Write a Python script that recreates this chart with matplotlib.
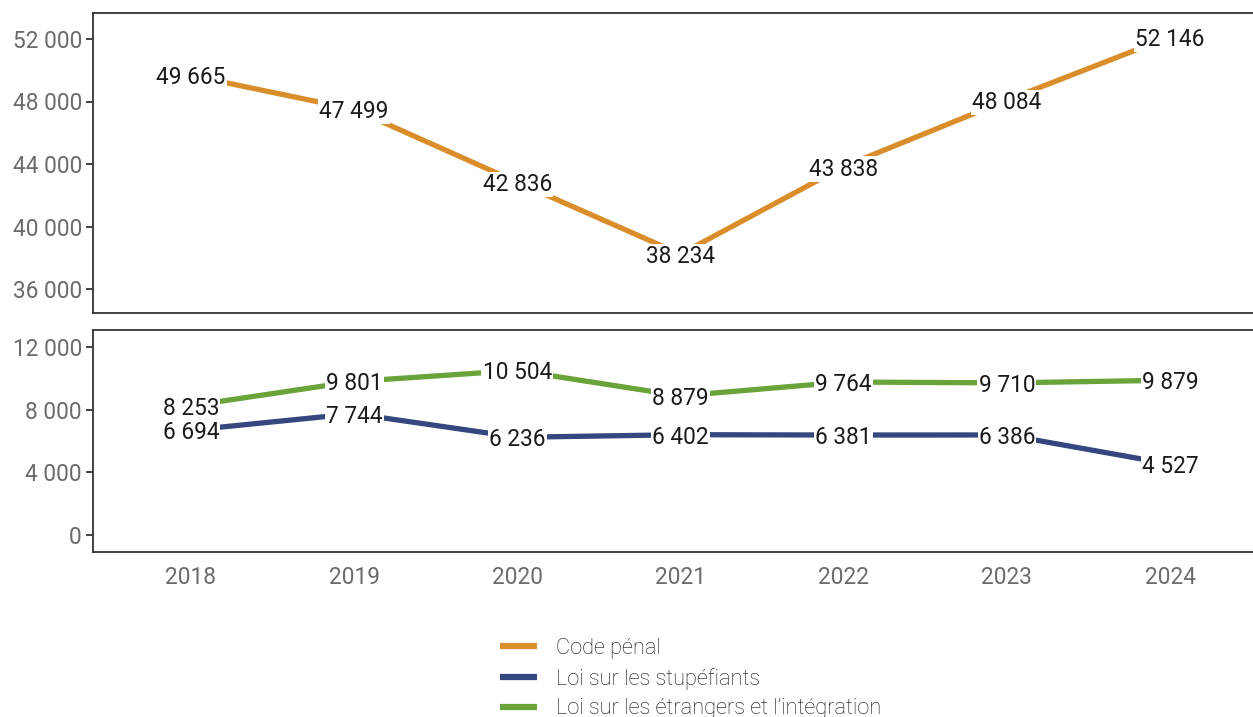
import matplotlib
matplotlib.use('Agg')
import matplotlib.pyplot as plt

years = [2018, 2019, 2020, 2021, 2022, 2023, 2024]
code_penal = [49665, 47499, 42836, 38234, 43838, 48084, 52146]
stupefiants = [6694, 7744, 6236, 6402, 6381, 6386, 4527]
etrangers = [8253, 9801, 10504, 8879, 9764, 9710, 9879]

series_names = ["Code pénal", "Loi sur les stupéfiants", "Loi sur les étrangers et l’intégration"]
colors = ["#D98E2B", "#34487F", "#6AA33A"]

top_ticks = [36000, 40000, 44000, 48000, 52000]
bottom_ticks = [0, 4000, 8000, 12000]

plt.rcParams['font.family'] = ['Roboto', 'DejaVu Sans']

W, H = 1253, 717
fig = plt.figure(figsize=(W / 100, H / 100), dpi=100)

def px_axes(x0, y0, x1, y1):
    return fig.add_axes([x0 / W, 1 - y1 / H, (x1 - x0) / W, (y1 - y0) / H])

ax_top = px_axes(93, 13, 1268, 313)
ax_bot = px_axes(93, 330, 1268, 552)

FS = 16.3
LFS = 15.7

def fmt(v):
    return f"{v:,}".replace(",", " ")

def draw(ax, vals, color, label):
    ln, = ax.plot(years, vals, color=color, lw=3.8, solid_capstyle='butt', zorder=2, label=label)
    for x, y in zip(years, vals):
        ax.text(x, y, fmt(y), ha='center', va='center_baseline', fontsize=FS, color='#1a1a1a',
                zorder=3, bbox=dict(boxstyle='square,pad=0.05', fc='white', ec='none'))
    return ln

h1 = draw(ax_top, code_penal, colors[0], series_names[0])
h2 = draw(ax_bot, stupefiants, colors[1], series_names[1])
h3 = draw(ax_bot, etrangers, colors[2], series_names[2])

ax_top.set_ylim(34464, 53664)
ax_bot.set_ylim(-1085, 13085)
for ax in (ax_top, ax_bot):
    ax.set_xlim(2017.4, 2024.6)
    for s in ax.spines.values():
        s.set_color('#333333')
        s.set_linewidth(1.3)
    ax.tick_params(axis='y', length=5, width=1.3, color='#333333', labelsize=FS,
                   labelcolor='#6b6b6b', pad=3)

ax_top.set_yticks(top_ticks)
ax_top.set_yticklabels([fmt(t) for t in top_ticks])
ax_top.set_xticks([])
ax_bot.set_yticks(bottom_ticks)
ax_bot.set_yticklabels([fmt(t) for t in bottom_ticks])
ax_bot.set_xticks(years)
ax_bot.set_xticklabels([str(y) for y in years])
ax_bot.tick_params(axis='x', length=0, labelsize=FS, labelcolor='#6b6b6b', pad=10)

leg = fig.legend(handles=[h1, h2, h3], loc='upper left', bbox_to_anchor=(500 / W, 1 - 638 / H),
                 frameon=False, handlelength=1.71, handletextpad=0.88,
                 labelspacing=0.4, borderpad=0, borderaxespad=0, labelcolor='#111111',
                 prop={'family': ['Roboto', 'DejaVu Sans'], 'weight': 'light', 'size': LFS})
for ln in leg.get_lines():
    ln.set_linewidth(4.5)

plt.savefig('out.png', dpi=100)
